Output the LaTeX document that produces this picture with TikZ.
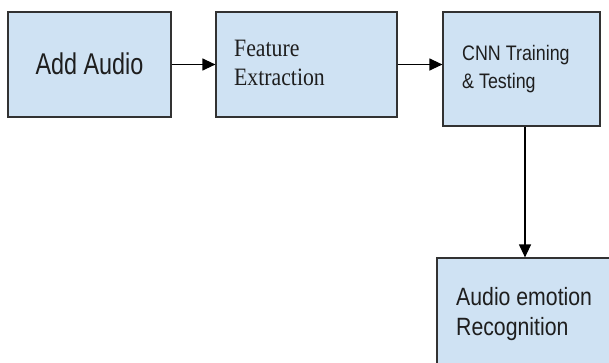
\documentclass[tikz,border=0pt]{standalone}
\usepackage{fontspec}
\newfontfamily\ssf[FakeStretch=0.85]{Liberation Sans}
\newfontfamily\ssfn[FakeStretch=0.78]{Liberation Sans}
\newfontfamily\srf[FakeStretch=0.87]{Liberation Serif}
\usetikzlibrary{arrows.meta}
\definecolor{boxfill}{RGB}{207,226,243}
\definecolor{boxline}{RGB}{50,50,50}
\definecolor{txt}{RGB}{30,30,30}
\tikzset{
  box/.style={draw=boxline, fill=boxfill, line width=1.2pt, inner sep=0pt, rectangle},
  lbl/.style={anchor=base west, inner sep=0pt, text=txt},
  arr/.style={draw=black, line width=1.2pt, -{Triangle[length=13pt,width=12pt]}}
}
\begin{document}
\begin{tikzpicture}[x=1pt,y=-1pt]
\path[use as bounding box] (0,0) rectangle (609,362);
\clip (0,0) rectangle (609,362);
\fill[white] (0,0) rectangle (609,362);
\node[box, minimum width=163pt, minimum height=105pt] (b1) at (89.5,64.5) {};
\node[box, minimum width=181pt, minimum height=105pt] (b2) at (306.5,64.5) {};
\node[box, minimum width=157pt, minimum height=114pt] (b3) at (521.5,69) {};
\node[box, minimum width=178pt, minimum height=114pt] (b4) at (526,315) {};
\node[lbl, anchor=base] (t1) at (89.5,74) {\ssfn\fontsize{30}{30}\selectfont Add Audio};
\node[lbl] (t2a) at (234,56) {\srf\fontsize{25}{25}\selectfont Feature};
\node[lbl] (t2b) at (234,85) {\srf\fontsize{25}{25}\selectfont Extraction};
\node[lbl] (t3a) at (462,60.5) {\ssf\fontsize{21}{21}\selectfont CNN Training};
\node[lbl] (t3b) at (462,88) {\ssf\fontsize{21}{21}\selectfont \& Testing};
\node[lbl] (t4a) at (456,305) {\ssf\fontsize{25}{25}\selectfont Audio emotion};
\node[lbl] (t4b) at (456,335) {\ssf\fontsize{25}{25}\selectfont Recognition};
\coordinate (v) at (525,0);
\draw[arr] (b1.east) -- (b2.west);
\draw[arr] (b2.east) -- (b2.east -| b3.west);
\draw[arr] (v |- b3.south) -- (v |- b4.north);
\end{tikzpicture}
\end{document}
